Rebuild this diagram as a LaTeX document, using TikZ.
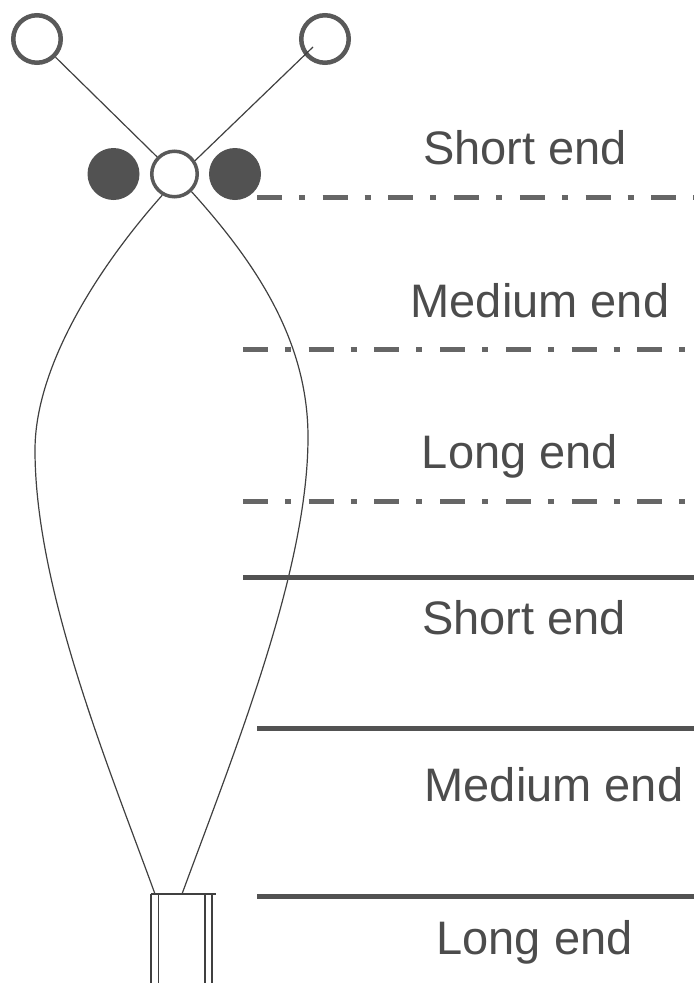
\documentclass[tikz,border=0pt]{standalone}
\usepackage{fontspec}
\setmainfont{Liberation Sans}
\begin{document}
\begin{tikzpicture}[x=1pt, y=-1pt, thick]
  \tikzset{
    ring/.style={draw=black!65, line width=4.5pt, fill=white, circle, inner sep=0pt, minimum size=47.5pt},
    hub/.style={draw=black!65, line width=3.5pt, fill=white, circle, inner sep=0pt, minimum size=45.5pt},
    ball/.style={draw=none, fill=black!68, circle, inner sep=0pt, minimum size=52pt},
    wire/.style={draw=black!75, line width=1.2pt},
    solidend/.style={draw=black!68, line width=5pt},
    dashend/.style={draw=black!60, line width=5.5pt, dash pattern=on 25pt off 17pt on 6pt off 17.7pt},
    lbl/.style={font=\fontsize{47}{50}\selectfont, text=black!70, inner sep=0pt, anchor=base}
  }
  \useasboundingbox (0,0) rectangle (694,983);

  \node (ringL) [ring] at (37,39) {};
  \node (ringR) [ring] at (325,39) {};
  \node (ballL) [ball] at (113.5,174) {};
  \node (ballR) [ball] at (235,174) {};
  \node (hub) [hub] at (174.5,174) {};

  \coordinate (wireR) at (313,47);
  \coordinate (tubeTL) at (155,894);
  \coordinate (tubeTM) at (182,894);
  \coordinate (tubeTR) at (216,894);
  \draw[wire] (ringL) -- (hub);
  \draw[wire] (wireR) -- (hub.33);
  \draw[wire] (hub.240) .. controls (100,265) and (35,365) .. (35,450) .. controls (35,590) and (110,770) .. (tubeTL);
  \draw[wire] (hub.-46) .. controls (255,262) and (308,340) .. (308,437) .. controls (308,570) and (235,750) .. (tubeTM);

  \draw[wire] (151,894) -- (tubeTR);
  \draw[wire] (151,894) -- (151,983);
  \draw[wire] (158.5,894) -- (158.5,983);
  \draw[wire] (205,894) -- (205,983);
  \draw[wire] (212,894) -- (212,983);

  \draw[dashend] (257,197.5) -- (694,197.5);
  \draw[dashend] (243,349.5) -- (694,349.5);
  \draw[dashend] (243,501.5) -- (694,501.5);
  \draw[solidend] (243,577.5) -- (694,577.5);
  \draw[solidend] (257,728.5) -- (694,728.5);
  \draw[solidend] (257,896) -- (694,896);

  \node (end1) [lbl] at (525,164) {Short end};
  \node (end2) [lbl] at (540,317) {Medium end};
  \node (end3) [lbl] at (520,468) {Long end};
  \node (end4) [lbl] at (524,634) {Short end};
  \node (end5) [lbl] at (554,801) {Medium end};
  \node (end6) [lbl] at (534.5,954) {Long end};
\end{tikzpicture}
\end{document}
